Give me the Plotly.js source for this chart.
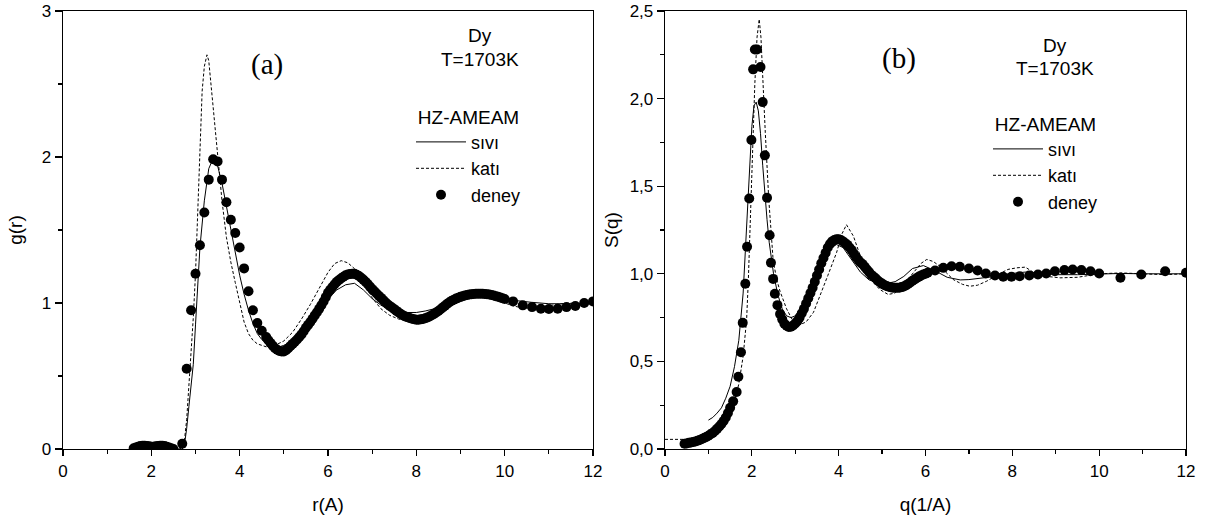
<!DOCTYPE html>
<html>
<head>
<meta charset="utf-8">
<script src="https://cdn.plot.ly/plotly-3.0.1.min.js"></script>
<style>html,body{margin:0;padding:0;background:#fff;}#chart{width:1216px;height:524px;}</style>
</head>
<body>
<div id="chart"></div>
<script>
// ---------- Panel (a): g(r) ----------
const r_liq = [1.5, 2.7, 2.75, 2.8, 2.85, 2.9, 2.95, 3.0, 3.05, 3.1, 3.2, 3.3, 3.4, 3.5, 3.6, 3.7, 3.8, 3.9, 4.0, 4.1, 4.2, 4.3, 4.4, 4.5, 4.6, 4.7, 4.8, 4.9, 5.0, 5.2, 5.4, 5.6, 5.8, 6.0, 6.2, 6.4, 6.6, 6.8, 7.0, 7.2, 7.4, 7.6, 7.8, 8.0, 8.2, 8.4, 8.6, 8.8, 9.0, 9.2, 9.4, 9.6, 9.8, 10.0, 10.3, 10.6, 11.0, 11.5, 12.0];
const g_liq = [0, 0, 0.03, 0.14, 0.29, 0.42, 0.58, 0.85, 1.12, 1.38, 1.70, 1.92, 1.99, 1.94, 1.82, 1.66, 1.50, 1.33, 1.19, 1.06, 0.95, 0.86, 0.79, 0.75, 0.72, 0.705, 0.70, 0.70, 0.71, 0.74, 0.78, 0.85, 0.94, 1.03, 1.09, 1.125, 1.135, 1.09, 1.03, 0.985, 0.955, 0.94, 0.935, 0.935, 0.945, 0.96, 0.985, 1.015, 1.04, 1.06, 1.07, 1.065, 1.05, 1.035, 1.015, 1.005, 0.995, 0.995, 1.0];

const r_sol = [1.5, 2.65, 2.7, 2.75, 2.8, 2.85, 2.9, 2.95, 3.0, 3.05, 3.1, 3.15, 3.2, 3.26, 3.3, 3.35, 3.4, 3.45, 3.5, 3.6, 3.7, 3.8, 3.9, 4.0, 4.1, 4.2, 4.3, 4.4, 4.5, 4.6, 4.8, 5.0, 5.2, 5.4, 5.6, 5.8, 6.0, 6.15, 6.3, 6.45, 6.6, 6.8, 7.0, 7.2, 7.4, 7.6, 7.8, 8.0, 8.2, 8.4, 8.6, 8.8, 9.0, 9.2, 9.4, 9.6, 9.8, 10.0, 10.2, 10.4, 10.6, 10.8, 11.0, 11.3, 11.6, 12.0];
const g_sol = [0, 0, 0.02, 0.06, 0.2, 0.42, 0.66, 0.9, 1.2, 1.62, 2.1, 2.45, 2.62, 2.70, 2.66, 2.50, 2.30, 2.15, 2.0, 1.70, 1.45, 1.28, 1.14, 1.0, 0.87, 0.79, 0.745, 0.72, 0.71, 0.70, 0.71, 0.74, 0.80, 0.89, 0.99, 1.10, 1.21, 1.27, 1.29, 1.275, 1.235, 1.15, 1.035, 0.96, 0.915, 0.89, 0.88, 0.88, 0.895, 0.93, 0.98, 1.03, 1.065, 1.08, 1.075, 1.06, 1.035, 1.0, 0.98, 0.966, 0.965, 0.975, 0.985, 0.995, 1.0, 1.0];

const r_exp = [1.60, 1.65, 1.70, 1.75, 1.80, 1.85, 1.90, 1.95, 2.00, 2.05, 2.10, 2.15, 2.20, 2.25, 2.30, 2.35, 2.40, 2.45, 2.50,
  2.7, 2.8, 2.9, 3.0, 3.1, 3.2, 3.3, 3.4, 3.5, 3.6, 3.7, 3.8, 3.9, 4.0, 4.1, 4.2, 4.3, 4.4, 4.5,
  4.60, 4.65, 4.70, 4.75, 4.80, 4.85, 4.90, 4.95, 5.00, 5.05, 5.10, 5.15, 5.20, 5.25, 5.30, 5.35, 5.40, 5.45, 5.50, 5.55, 5.60, 5.65, 5.70, 5.75, 5.80, 5.85, 5.90, 5.95,
  6.00, 6.05, 6.10, 6.15, 6.20, 6.25, 6.30, 6.35, 6.40, 6.45, 6.50, 6.55, 6.60, 6.65, 6.70, 6.75, 6.80, 6.85, 6.90, 6.95,
  7.00, 7.05, 7.10, 7.15, 7.20, 7.25, 7.30, 7.35, 7.40, 7.45, 7.50, 7.55, 7.60, 7.65, 7.70, 7.75, 7.80, 7.85, 7.90, 7.95,
  8.00, 8.05, 8.10, 8.15, 8.20, 8.25, 8.30, 8.35, 8.40, 8.45, 8.50, 8.55, 8.60, 8.65, 8.70, 8.75, 8.80, 8.85, 8.90, 8.95,
  9.00, 9.05, 9.10, 9.15, 9.20, 9.25, 9.30, 9.35, 9.40, 9.45, 9.50, 9.55, 9.60, 9.65, 9.70, 9.75, 9.80, 9.85, 9.90, 9.95, 10.00,
  10.19, 10.41, 10.62, 10.82, 11.0, 11.2, 11.4, 11.6, 11.8, 12.0];
const g_exp = [0.005, 0.01, 0.015, 0.02, 0.022, 0.022, 0.02, 0.018, 0.015, 0.015, 0.018, 0.02, 0.022, 0.022, 0.02, 0.015, 0.01, 0.005, 0.0,
  0.036, 0.55, 0.95, 1.20, 1.395, 1.62, 1.845, 1.985, 1.97, 1.845, 1.69, 1.57, 1.48, 1.38, 1.237, 1.08, 0.95, 0.863, 0.81,
  0.767, 0.745, 0.725, 0.707, 0.69, 0.68, 0.672, 0.668, 0.668, 0.677, 0.69, 0.705, 0.72, 0.735, 0.75, 0.767, 0.785, 0.807, 0.83, 0.85, 0.87, 0.892, 0.915, 0.937, 0.96, 0.985, 1.01, 1.04,
  1.07, 1.09, 1.11, 1.128, 1.145, 1.158, 1.17, 1.18, 1.19, 1.195, 1.198, 1.20, 1.20, 1.193, 1.185, 1.173, 1.16, 1.145, 1.13, 1.112,
  1.095, 1.08, 1.065, 1.05, 1.035, 1.02, 1.005, 0.992, 0.98, 0.969, 0.958, 0.946, 0.935, 0.925, 0.915, 0.908, 0.902, 0.897, 0.892, 0.889,
  0.886, 0.886, 0.888, 0.891, 0.895, 0.901, 0.908, 0.916, 0.925, 0.935, 0.945, 0.957, 0.97, 0.982, 0.995, 1.005, 1.015, 1.022, 1.03, 1.036,
  1.042, 1.047, 1.052, 1.055, 1.058, 1.06, 1.062, 1.063, 1.064, 1.064, 1.063, 1.062, 1.06, 1.058, 1.055, 1.051, 1.047, 1.043, 1.038, 1.033, 1.027,
  1.011, 0.984, 0.972, 0.961, 0.959, 0.961, 0.972, 0.98, 1.0, 1.011];

// ---------- Panel (b): S(q) ----------
const q_liq = [1.0, 1.1, 1.2, 1.3, 1.4, 1.5, 1.6, 1.7, 1.8, 1.85, 1.9, 1.95, 2.0, 2.05, 2.1, 2.15, 2.2, 2.25, 2.3, 2.35, 2.4, 2.5, 2.6, 2.7, 2.8, 2.9, 3.0, 3.2, 3.4, 3.6, 3.8, 3.95, 4.1, 4.3, 4.5, 4.7, 4.9, 5.1, 5.3, 5.5, 5.7, 5.95, 6.2, 6.5, 6.8, 7.0, 7.3, 7.6, 8.0, 8.3, 8.7, 9.0, 9.5, 10.0, 10.5, 11.0, 11.5, 12.0];
const s_liq = [0.165, 0.18, 0.205, 0.235, 0.29, 0.358, 0.47, 0.62, 0.89, 1.11, 1.35, 1.62, 1.84, 1.96, 1.98, 1.93, 1.80, 1.62, 1.44, 1.31, 1.18, 1.0, 0.88, 0.80, 0.76, 0.75, 0.76, 0.83, 0.94, 1.05, 1.145, 1.167, 1.15, 1.08, 1.01, 0.965, 0.95, 0.945, 0.955, 0.985, 1.03, 1.047, 1.02, 0.98, 0.965, 0.967, 0.975, 0.985, 1.002, 1.01, 1.005, 0.995, 0.995, 1.0, 1.002, 1.0, 0.998, 1.0];

const q_sol = [0, 0.45, 0.5, 0.6, 0.7, 0.8, 0.9, 1.0, 1.1, 1.2, 1.3, 1.4, 1.5, 1.6, 1.7, 1.8, 1.88, 1.92, 1.96, 2.02, 2.07, 2.12, 2.17, 2.21, 2.25, 2.31, 2.39, 2.49, 2.57, 2.65, 2.8, 2.95, 3.11, 3.25, 3.42, 3.57, 3.75, 3.95, 4.08, 4.18, 4.34, 4.5, 4.64, 4.8, 4.95, 5.14, 5.3, 5.5, 5.72, 5.9, 6.03, 6.18, 6.33, 6.5, 6.64, 6.85, 7.02, 7.2, 7.41, 7.7, 7.9, 8.1, 8.3, 8.5, 8.8, 9.1, 9.5, 10.0, 10.5, 11.0, 11.5, 12.0];
const s_sol = [0.055, 0.055, 0.034, 0.037, 0.043, 0.052, 0.063, 0.076, 0.092, 0.115, 0.143, 0.18, 0.225, 0.28, 0.37, 0.53, 0.739, 0.967, 1.3, 1.806, 2.09, 2.35, 2.453, 2.35, 2.09, 1.806, 1.425, 1.08, 0.97, 0.9, 0.8, 0.73, 0.71, 0.725, 0.78, 0.872, 0.99, 1.12, 1.23, 1.28, 1.215, 1.1, 1.006, 0.95, 0.91, 0.882, 0.89, 0.94, 1.006, 1.06, 1.082, 1.07, 1.043, 1.0, 0.967, 0.94, 0.929, 0.935, 0.958, 1.0, 1.025, 1.034, 1.038, 1.006, 0.985, 0.977, 0.98, 1.0, 1.005, 1.0, 0.995, 1.0];

const q_exp = [0.45, 0.5, 0.55, 0.6, 0.65, 0.7, 0.75, 0.8, 0.85, 0.9, 0.95, 1.0, 1.05, 1.1, 1.15, 1.2, 1.25, 1.3, 1.35, 1.4, 1.45, 1.5,
  1.57, 1.65, 1.69, 1.75, 1.79, 1.85, 1.89, 1.94, 1.99, 2.03, 2.07, 2.12, 2.20, 2.25, 2.30, 2.35, 2.41, 2.44, 2.49, 2.53, 2.59,
  2.65, 2.7, 2.75, 2.8, 2.85, 2.9, 2.95, 3.0, 3.05, 3.1, 3.15, 3.2, 3.25, 3.3, 3.35, 3.4, 3.45, 3.5, 3.55, 3.6, 3.65, 3.7, 3.75, 3.8, 3.85, 3.9, 3.95, 4.0,
  4.05, 4.1, 4.15, 4.2, 4.25, 4.3, 4.35, 4.4, 4.45, 4.5, 4.55, 4.6, 4.65, 4.7, 4.75, 4.8, 4.85, 4.9, 4.95, 5.0, 5.05, 5.1, 5.15, 5.2, 5.25, 5.3, 5.35, 5.4,
  5.45, 5.5, 5.55, 5.6, 5.65, 5.7, 5.75, 5.8, 5.85, 5.9, 5.95, 6.0, 6.05,
  6.22, 6.41, 6.6, 6.79, 7.0, 7.2, 7.39, 7.6, 7.79, 7.98, 8.17, 8.39, 8.59, 8.78, 8.98, 9.2, 9.39, 9.59, 9.8, 10.0, 10.49, 10.97, 11.52, 12.0];
const s_exp = [0.03, 0.032, 0.035, 0.037, 0.04, 0.043, 0.047, 0.052, 0.057, 0.063, 0.069, 0.076, 0.084, 0.092, 0.103, 0.115, 0.128, 0.143, 0.16, 0.18, 0.205, 0.235,
  0.272, 0.325, 0.412, 0.552, 0.72, 0.943, 1.154, 1.43, 1.764, 2.167, 2.28, 2.28, 2.18, 1.98, 1.676, 1.434, 1.22, 1.063, 0.971, 0.886, 0.821,
  0.77, 0.74, 0.715, 0.703, 0.697, 0.698, 0.705, 0.716, 0.73, 0.75, 0.775, 0.80, 0.83, 0.86, 0.89, 0.92, 0.955, 0.99, 1.025, 1.06, 1.09, 1.12, 1.15, 1.17, 1.185, 1.193, 1.197, 1.197,
  1.193, 1.185, 1.175, 1.165, 1.15, 1.135, 1.115, 1.095, 1.08, 1.065, 1.055, 1.04, 1.025, 1.01, 0.995, 0.985, 0.975, 0.962, 0.952, 0.944, 0.936, 0.93, 0.926, 0.923, 0.921, 0.92, 0.92, 0.921,
  0.924, 0.928, 0.934, 0.942, 0.95, 0.96, 0.968, 0.976, 0.984, 0.99, 0.996, 1.0, 1.006,
  1.019, 1.034, 1.043, 1.04, 1.03, 1.019, 1.002, 0.99, 0.983, 0.983, 0.986, 0.99, 0.996, 1.002, 1.015, 1.021, 1.025, 1.021, 1.015, 1.002, 0.977, 0.996, 1.015, 1.006];

const names = ['sıvı', 'katı', 'deney'];
const FONT = 'Liberation Sans, Arial, sans-serif';
const SERIF = 'Liberation Serif, Times New Roman, serif';

const lineSolid = {color: '#000', width: 1};
const lineDash = {color: '#000', width: 1, dash: '3px,2px'};
const dot = {color: '#000', size: 10};

const traces = [
  {x: r_liq, y: g_liq, mode: 'lines', line: lineSolid, name: names[0], xaxis: 'x', yaxis: 'y', legend: 'legend'},
  {x: r_sol, y: g_sol, mode: 'lines', line: lineDash, name: names[1], xaxis: 'x', yaxis: 'y', legend: 'legend'},
  {x: r_exp, y: g_exp, mode: 'markers', marker: dot, name: names[2], xaxis: 'x', yaxis: 'y', legend: 'legend'},
  {x: q_liq, y: s_liq, mode: 'lines', line: lineSolid, name: names[0], xaxis: 'x2', yaxis: 'y2', legend: 'legend2'},
  {x: q_sol, y: s_sol, mode: 'lines', line: lineDash, name: names[1], xaxis: 'x2', yaxis: 'y2', legend: 'legend2'},
  {x: q_exp, y: s_exp, mode: 'markers', marker: dot, name: names[2], xaxis: 'x2', yaxis: 'y2', legend: 'legend2'}
];

const W = 1216, H = 524;
const yDom = [(H - 449) / H, (H - 11) / H];

function xax(dom, title, anchor) {
  return {
    domain: dom, range: [0, 12], dtick: 2, tick0: 0, anchor: anchor,
    ticks: 'outside', ticklen: 6, tickwidth: 1.3, tickcolor: '#000',
    showline: true, linewidth: 1.3, linecolor: '#000', mirror: true,
    showgrid: false, zeroline: false,
    minor: {dtick: 1, tick0: 0, ticks: 'outside', ticklen: 4, tickwidth: 1.3, tickcolor: '#000', showgrid: false},
    tickfont: {family: FONT, size: 17, color: '#000'},
    title: {text: title, font: {family: FONT, size: 19, color: '#000'}, standoff: 18},
    automargin: false
  };
}
function yax(range, dtick, minor, title, anchor, fmt, standoff) {
  return {
    domain: yDom, range: range, dtick: dtick, tick0: 0, anchor: anchor,
    ticks: 'outside', ticklen: 7, tickwidth: 1.3, tickcolor: '#000',
    showline: true, linewidth: 1.3, linecolor: '#000', mirror: true,
    showgrid: false, zeroline: false, tickformat: fmt,
    minor: {dtick: minor, tick0: 0, ticks: 'outside', ticklen: 4, tickwidth: 1.3, tickcolor: '#000', showgrid: false},
    tickfont: {family: FONT, size: 17, color: '#000'},
    title: {text: title, font: {family: FONT, size: 19, color: '#000'}, standoff: standoff},
    automargin: false
  };
}

const legendBase = {
  font: {family: FONT, size: 18, color: '#000'},
  bgcolor: 'rgba(0,0,0,0)', borderwidth: 0,
  xanchor: 'left', yanchor: 'top', itemwidth: 50,
  title: {text: 'HZ-AMEAM', side: 'top center', font: {family: FONT, size: 19, color: '#000'}},
  tracegroupgap: 0
};

const layout = {
  width: W, height: H,
  margin: {l: 0, r: 0, t: 0, b: 0},
  paper_bgcolor: '#fff', plot_bgcolor: '#fff',
  separators: ', ',
  showlegend: true,
  xaxis: xax([63 / W, 593 / W], 'r(A)', 'y'),
  yaxis: yax([0, 3], 1, 0.5, 'g(r)', 'x', '', 14),
  xaxis2: xax([665 / W, 1186 / W], 'q(1/A)', 'y2'),
  yaxis2: yax([0, 2.5], 0.5, 0.25, 'S(q)', 'x2', '.1f', 6),
  legend: Object.assign({}, legendBase, {x: 411 / W, y: 1 - 99 / H}),
  legend2: Object.assign({}, legendBase, {x: 988 / W, y: 1 - 106 / H}),
  annotations: [
    {xref: 'paper', yref: 'paper', x: 267 / W, y: 1 - 65 / H, text: '(a)', showarrow: false, xanchor: 'center', yanchor: 'middle', font: {family: SERIF, size: 29, color: '#000'}},
    {xref: 'paper', yref: 'paper', x: 899 / W, y: 1 - 58 / H, text: '(b)', showarrow: false, xanchor: 'center', yanchor: 'middle', font: {family: SERIF, size: 29, color: '#000'}},
    {xref: 'paper', yref: 'paper', x: 480 / W, y: 1 - 35 / H, text: 'Dy', showarrow: false, xanchor: 'center', yanchor: 'middle', font: {family: FONT, size: 19, color: '#000'}},
    {xref: 'paper', yref: 'paper', x: 480 / W, y: 1 - 60 / H, text: 'T=1703K', showarrow: false, xanchor: 'center', yanchor: 'middle', font: {family: FONT, size: 19, color: '#000'}},
    {xref: 'paper', yref: 'paper', x: 1055 / W, y: 1 - 45 / H, text: 'Dy', showarrow: false, xanchor: 'center', yanchor: 'middle', font: {family: FONT, size: 19, color: '#000'}},
    {xref: 'paper', yref: 'paper', x: 1055 / W, y: 1 - 68 / H, text: 'T=1703K', showarrow: false, xanchor: 'center', yanchor: 'middle', font: {family: FONT, size: 19, color: '#000'}}
  ]
};

Plotly.newPlot('chart', traces, layout, {displayModeBar: false, staticPlot: true});
</script>
</body>
</html>
